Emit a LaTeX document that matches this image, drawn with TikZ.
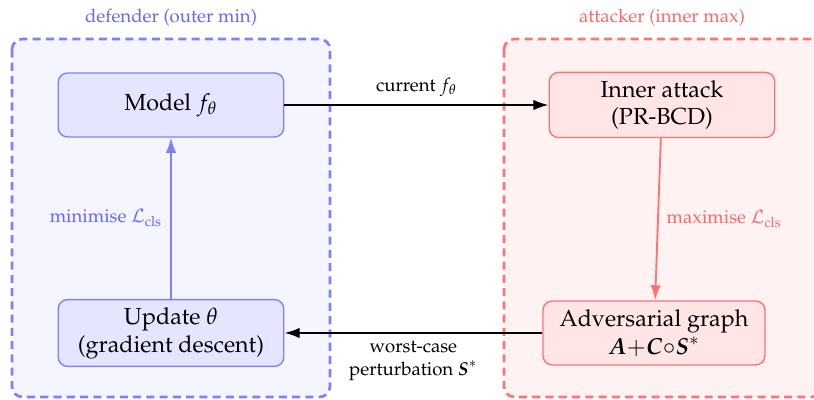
\documentclass[tikz,border=0pt]{standalone}
\usepackage[T1]{fontenc}
\usepackage{amsmath}
\usepackage{mathpazo}
\usetikzlibrary{arrows.meta}

\begin{document}
\begin{tikzpicture}[x=0.43pt,y=-0.43pt,
    box/.style={draw, rounded corners=4pt, minimum width=97pt, minimum height=27.5pt,
                align=center, line width=0.6pt},
    defbox/.style={box, draw=blue!50, fill=blue!10},
    attbox/.style={box, draw=red!55, fill=red!10},
    group/.style={line width=1.15pt, dash pattern=on 3.5pt off 2.2pt, rounded corners=4.5pt},
    lbl/.style={font=\footnotesize},
    link/.style={-{Latex[length=6.5pt,width=4.5pt]}, line width=0.8pt}]
  \useasboundingbox (0,0) rectangle (814,400);
  % the two players
  \draw[group, draw=blue!50, fill=blue!4] (12,39) rectangle (330,397);
  \draw[group, draw=red!55, fill=red!5] (504,39) rectangle (822,397);
  \node[lbl, text=blue!60] (deflabel) at (171,18) {defender (outer min)};
  \node[lbl, text=red!60] (attlabel) at (662,18) {attacker (inner max)};

  \node[defbox] (model) at (171,105) {Model $f_\theta$};
  \node[defbox] (update) at (171,333) {Update $\theta$\\(gradient descent)};
  \node[attbox] (inner) at (662,105) {Inner attack\\(PR-BCD)};
  \node[attbox, minimum width=95.5pt] (advgraph) at (654,333)
      {Adversarial graph\\$\boldsymbol{A}{+}\boldsymbol{C}{\circ}\boldsymbol{S}^{*}$};

  \draw[link] (model) -- node[lbl, above] {current $f_\theta$} (inner);
  \draw[link] (advgraph) -- node[lbl, below, align=center] {worst-case\\perturbation $\boldsymbol{S}^{*}$} (update);
  \draw[link, blue!50] (update) -- node[lbl, left, text=blue!60] {minimise $\mathcal{L}_{\text{cls}}$} (model);
  \draw[link, red!55] (inner) -- node[lbl, right, text=red!60] {maximise $\mathcal{L}_{\text{cls}}$} (advgraph);
\end{tikzpicture}
\end{document}
